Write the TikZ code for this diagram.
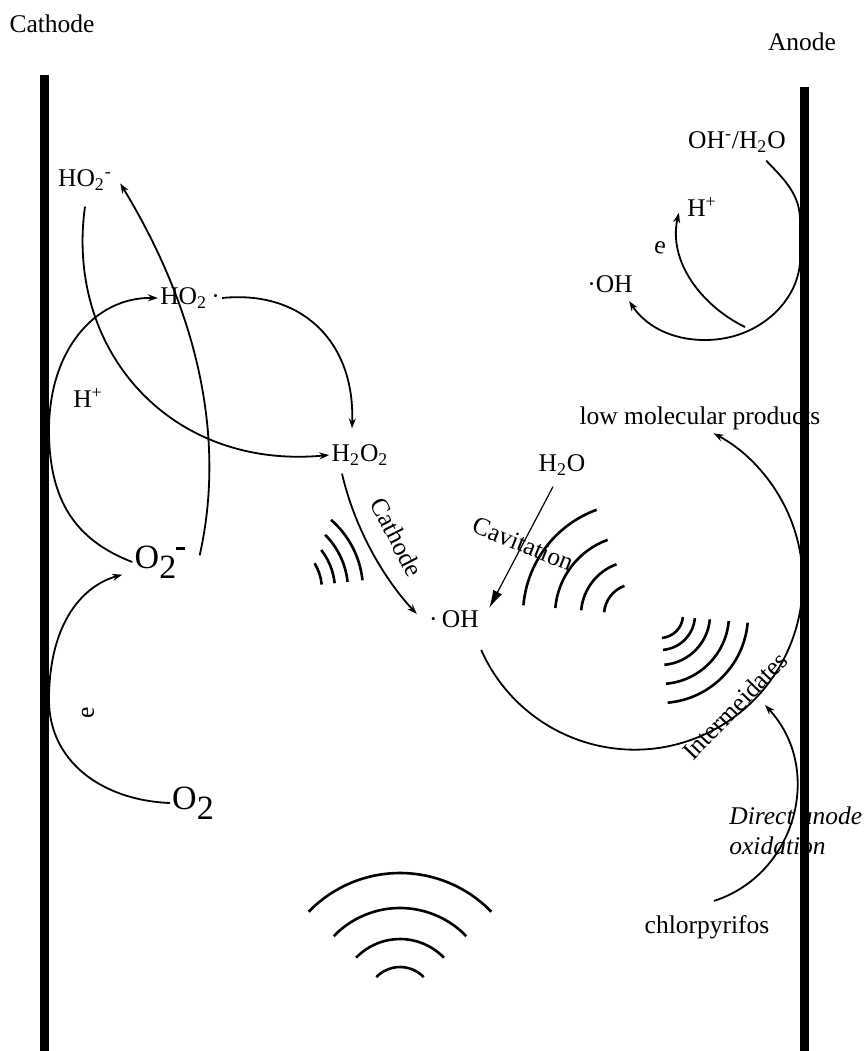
\documentclass[tikz,border=0pt]{standalone}
\usepackage{fontspec}
\setmainfont{Liberation Serif}
\usetikzlibrary{arrows.meta}
\newcommand{\oxtwo}{O\raisebox{-5pt}{2}}

\begin{document}
\begin{tikzpicture}[x=0.5pt,y=-0.5pt,
  lbl/.style={inner sep=1pt,font=\fontsize{12.75}{15}\selectfont},
  big/.style={inner sep=1pt,font=\fontsize{17}{20}\selectfont},
  arr/.style={-{Stealth[length=5pt,width=3.5pt]},line width=0.9pt},
  wave/.style={line width=1.3pt}]
\useasboundingbox (0,0) rectangle (864,1051);
\node[lbl] (cath) at (52,24) {Cathode};
\node[lbl] (anod) at (802,42) {Anode};
\node[lbl] (ho2m) at (85,180) {HO\textsubscript{2}\textsuperscript{-}};
\node[lbl] (ho2r) at (190,298) {HO\textsubscript{2}\,·};
\node[lbl] (hpl) at (88,398) {H\textsuperscript{+}};
\node[lbl] (h2o2) at (360,455) {H\textsubscript{2}O\textsubscript{2}};
\node[big] (o2m) at (160,562) {\oxtwo\raisebox{9pt}{\rule{4.5pt}{1.6pt}}};
\node[lbl,rotate=90] (el) at (88,713) {e};
\node[big] (o2) at (193,803) {\oxtwo};
\node[lbl] (oh) at (454,619) {·\,OH};
\node[lbl] (h2o) at (562,465) {H\textsubscript{2}O};
\node[lbl,rotate=-22] (cav) at (523,544) {Cavitation};
\node[lbl,rotate=-63] (cpath) at (397,537) {Cathode};
\node[lbl] (ohw) at (737,142) {OH\textsuperscript{-}/H\textsubscript{2}O};
\node[lbl] (hplr) at (702,207) {H\textsuperscript{+}};
\node[lbl,rotate=-10] (er) at (660,248) {e};
\node[lbl] (ohr) at (610,284) {·OH};
\node[lbl] (lmp) at (700,418) {low molecular products};
\node[lbl,rotate=46] (inter) at (735,706) {Intermeidates};
\node[lbl] (chl) at (707,927) {chlorpyrifos};
\node[lbl,font=\fontsize{12.75}{15}\selectfont\itshape,align=left,anchor=north west] (dao) at (727,804) {Direct anode\\oxidation};
\coordinate (split) at (745,327);
\coordinate (dirend) at (765,705);
\draw[arr] (o2m.west) .. controls (75,540) and (49,500) .. (49,430) .. controls (49,350) and (95,297) .. (ho2r.west);
\draw[arr] ([yshift=-7pt]ho2m.south) .. controls (65,350) and (170,470) .. (h2o2.west);
\draw[arr] ([xshift=6pt,yshift=-6pt]o2m.north east) .. controls (230,420) and (185,290) .. ([xshift=3pt,yshift=-8pt]ho2m.north east);
\draw[arr] (ho2r.east) .. controls (300,290) and (355,340) .. ([xshift=-4pt,yshift=7pt]h2o2.north);
\draw[arr] (o2.west) .. controls (100,800) and (49,760) .. (49,700) .. controls (49,620) and (85,585) .. ([xshift=-5pt,yshift=3pt]o2m.south west);
\draw[arr] ([xshift=-9pt,yshift=-3pt]h2o2.south) .. controls (355,530) and (385,580) .. ([xshift=-5pt,yshift=-3pt]oh.north west);
\draw[-{Latex[length=9pt,width=5pt]},line width=0.6pt] ([xshift=-4.5pt,yshift=-4.5pt]h2o.south) -- ([xshift=4pt]oh.north east);
\draw[arr] ([yshift=-10pt]oh.south east) arc[start angle=156,end angle=-62,radius=168];
\draw[arr] ([xshift=-11pt,yshift=-3pt]ohw.south east) .. controls (785,180) and (800,195) .. (800,220) -- (800,262) .. controls (798,300) and (760,340) .. (705,340) .. controls (670,340) and (645,325) .. ([xshift=-3pt,yshift=-3pt]ohr.south east);
\draw[arr] (split) .. controls (700,305) and (668,260) .. ([xshift=-3pt,yshift=3pt]hplr.south west);
\draw[arr] ([xshift=3.5pt,yshift=6pt]chl.north) .. controls (795,875) and (825,770) .. (dirend);
\foreach \r/\a in {52/31,65/38,78/45,93/49}
  \draw[wave] (270,590) ++(-6:\r) arc[start angle=-6,end angle=-\a,radius=\r];
\foreach \r in {31,54,80,112}
  \draw[wave] (635,615) ++(-110:\r) arc[start angle=-110,end angle=-175,radius=\r];
\foreach \r in {23,35,50,69,88}
  \draw[wave] (660,615) ++(85:\r) arc[start angle=85,end angle=5,radius=\r];
\foreach \r in {33,61,92,127}
  \draw[wave] (400,1000) ++(-44:\r) arc[start angle=-44,end angle=-136,radius=\r];
\draw[line width=4.5pt] (44.5,75) -- (44.5,1051);
\draw[line width=4.5pt] (804,87) -- (804,1051);
\end{tikzpicture}
\end{document}
